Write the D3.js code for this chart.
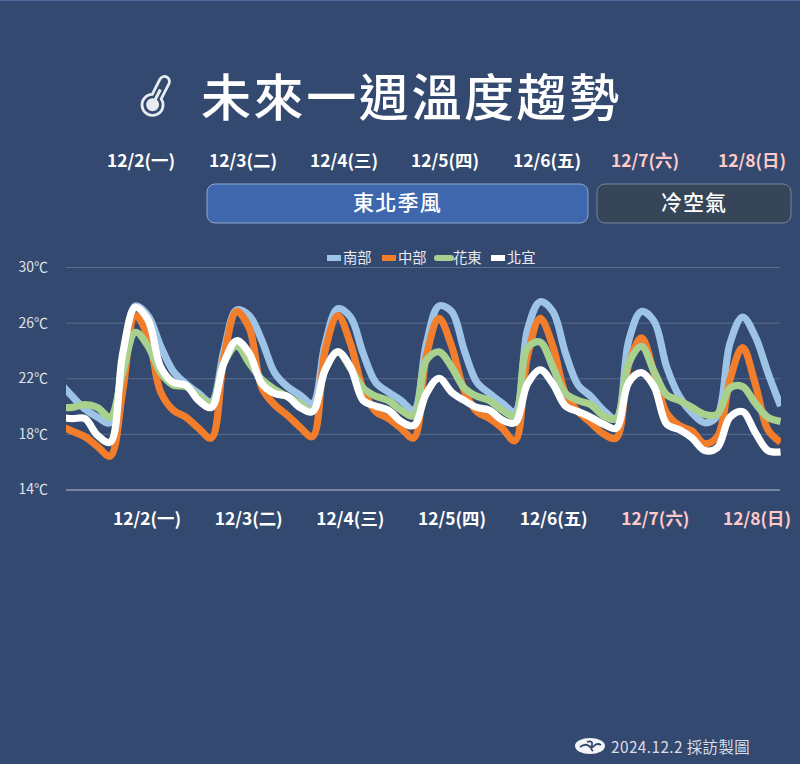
<!DOCTYPE html>
<html>
<head>
<meta charset="utf-8">
<script src="https://cdn.jsdelivr.net/npm/d3@7"></script>
<style>
    html, body { margin: 0; padding: 0; background: #34496f; }
    svg { display: block; }
    text { font-family: "Noto Sans CJK TC", "Noto Sans", sans-serif; }
</style>
</head>
<body>
<div id="chart"></div>
<script>
// 3-hourly temperatures, the first point sits just left of the plot and gets clipped
const south = [21.7,20.7,19.8,19.2,18.8,23,27.2,26.5,24.3,22.5,21.6,20.9,20.3,24,26.9,26.5,24.7,22.4,21.4,20.8,20.2,24.5,27,26.4,23.8,21.7,21,20.4,19.7,24.5,27.2,26.8,24,21.7,20.9,20.2,19.6,25.5,27.5,26.8,23.8,21.5,20.7,19.7,19.1,24.7,26.8,26.1,22.8,20.7,19.5,18.8,19.3,24.5,26.4,25,22.4,20];
const central = [18.6,18.2,17.8,17.1,16.4,21.1,26.5,25,21,19.7,19.2,18.4,17.7,23.5,26.8,25.6,21.3,20.1,19.35,18.5,17.8,24,26.5,24.5,21.2,19.6,19.1,18.4,17.7,23.6,26.3,24.3,21.1,19.6,19.1,18.4,17.5,23.6,26.3,24.3,20.9,19.6,18.8,18,17.7,23,24.9,22.4,19.5,18.6,18.2,17.3,17.8,21.9,24.2,21.6,18.3,17.4];
const eastern = [19.9,19.9,20.1,19.9,19.2,22.4,25.3,24.3,22.4,21.5,21.4,20.7,20.2,23.1,24.3,23.1,21.9,21.2,20.7,20.2,19.7,22.6,23.9,22.7,21.3,20.7,20.4,19.7,19.3,23.3,23.9,22.8,21.3,20.7,20.4,19.7,19.3,24.2,24.6,22.8,20.9,20.4,20.1,19.3,19.1,23.1,24.3,22.5,20.8,20.4,19.9,19.4,19.4,21.3,21.4,20.2,19.2,18.9];
const northern = [19.2,19.1,19.1,17.9,17.4,23.8,27.1,26.2,22.8,21.7,21.5,20.4,19.9,23.1,24.7,23.8,21.6,20.9,20.7,19.9,19.6,22.6,23.9,22.8,20.4,20,19.7,18.9,18.6,20.9,22,21,20.4,19.9,19.7,19,18.8,21.6,22.6,21.6,20,19.6,19.2,18.7,18.4,21.7,22.4,21.4,18.7,18.3,17.7,16.8,17,19.2,19.6,18.1,16.8,16.7];

const seriesNames = ["南部", "中部", "花東", "北宜"];
const seriesColors = ["#9dc3e6", "#f27d2b", "#a9d18e", "#ffffff"];
const dayLabels = ["12/2(一)", "12/3(二)", "12/4(三)", "12/5(四)", "12/6(五)", "12/7(六)", "12/8(日)"];
const yTicks = [14, 18, 22, 26, 30];
const allSeries = [south, central, eastern, northern];

const width = 800, height = 764;
const plot = {left: 66, right: 780, top: 267, bottom: 489.5};

let svg = d3.select("#chart").append("svg")
    .attr("width", width)
    .attr("height", height);

svg.append("rect").attr("width", width).attr("height", height).attr("fill", "#34496f");
svg.append("rect").attr("width", width).attr("height", 1).attr("fill", "#4c6a9c");

// scales
let x = d3.scaleLinear().domain([0, 57]).range([59.5, 59.5 + 57 * 12.65]);
let y = d3.scaleLinear().domain([14, 30]).range([plot.bottom, plot.top]);

// title
svg.append("text")
    .attr("x", 201).attr("y", 116)
    .attr("font-size", 50).attr("font-weight", 500)
    .attr("letter-spacing", 2.6)
    .attr("fill", "#ffffff")
    .text("未來一週溫度趨勢");

// thermometer icon
let icon = svg.append("g")
    .attr("transform", "translate(154,102) rotate(27)")
    .attr("fill", "none").attr("stroke", "#e8ebf0");
icon.append("path")
    .attr("stroke-width", 2.8)
    .attr("d", "M-5,-6 L-5,-23 A5,5 0 0 1 5,-23 L5,-6 A10.5,10.5 0 1 1 -5,-6 Z");
icon.append("circle").attr("r", 6.5).attr("cy", 3).attr("fill", "#e8ebf0").attr("stroke", "none");
icon.append("rect").attr("x", -1.5).attr("y", -14).attr("width", 3).attr("height", 14).attr("fill", "#e8ebf0").attr("stroke", "none");

// top row of dates
const topDayX = [141, 243, 344, 445, 547, 645, 752];
svg.append("g").selectAll("text")
    .data(dayLabels)
    .enter().append("text")
    .attr("x", (d, i) => topDayX[i])
    .attr("y", 167)
    .attr("text-anchor", "middle")
    .attr("font-size", 17.4).attr("font-weight", 700)
    .attr("fill", (d, i) => i > 4 ? "#ffc9c9" : "#ffffff")
    .text(d => d);

// weather bands
const bands = [
    {label: "東北季風", x: 207, w: 381, fill: "#3f67ad", stroke: "#8ea6cf"},
    {label: "冷空氣", x: 597, w: 194, fill: "#364558", stroke: "#76869a"}
];
bands.forEach(function (b) {
    svg.append("rect")
        .attr("x", b.x).attr("y", 184).attr("width", b.w).attr("height", 39).attr("rx", 8)
        .attr("fill", b.fill).attr("stroke", b.stroke);
    svg.append("text")
        .attr("x", b.x + b.w / 2).attr("y", 210)
        .attr("text-anchor", "middle")
        .attr("font-size", 21).attr("font-weight", 500).attr("letter-spacing", 1.2)
        .attr("fill", "#ffffff")
        .text(b.label);
});

// y axis and grid
let yAxis = d3.axisLeft(y)
    .tickValues(yTicks)
    .tickSize(-(plot.right - plot.left))
    .tickPadding(18)
    .tickFormat(d => d + "℃");

let yAxisG = svg.append("g")
    .attr("transform", "translate(" + plot.left + ",0)")
    .call(yAxis);
yAxisG.select(".domain").remove();
yAxisG.selectAll("line")
    .attr("stroke", d => d === 14 ? "#b9c1cf" : "#596d90")
    .attr("stroke-width", 1);
yAxisG.selectAll("text")
    .attr("fill", "#dfe3ea")
    .attr("font-size", 14)
    .style("font-family", '"Noto Sans CJK TC", sans-serif');

// lines, cut at the plot edges
svg.append("clipPath").attr("id", "plot-clip")
    .append("rect")
    .attr("x", plot.left).attr("y", 0)
    .attr("width", plot.right + 1 - plot.left).attr("height", height);

let line = d3.line()
    .x((d, i) => x(i))
    .y(d => y(d))
    .curve(d3.curveCatmullRom.alpha(0.5));

svg.append("g").attr("clip-path", "url(#plot-clip)")
    .selectAll("path")
    .data(allSeries)
    .enter().append("path")
    .attr("d", line)
    .attr("fill", "none")
    .attr("stroke", (d, i) => seriesColors[i])
    .attr("stroke-width", 7.2)
    .attr("stroke-linejoin", "round");

// legend
const legendX = [327, 382, 437, 491];
let legend = svg.append("g").selectAll("g")
    .data(seriesNames)
    .enter().append("g")
    .attr("transform", (d, i) => "translate(" + legendX[i] + ",258)");
legend.append("line")
    .attr("x1", 0).attr("x2", 14)
    .attr("stroke", (d, i) => seriesColors[i])
    .attr("stroke-width", 6)
    .attr("stroke-linecap", (d, i) => i === 2 ? "round" : "butt");
legend.append("text")
    .attr("x", 16).attr("y", 4.5)
    .attr("font-size", 14.3)
    .attr("fill", "#e8ebf0")
    .text(d => d);

// bottom row of dates
let dayScale = d3.scalePoint().domain(dayLabels).range([147, 757]);
svg.append("g").selectAll("text")
    .data(dayLabels)
    .enter().append("text")
    .attr("x", d => dayScale(d))
    .attr("y", 525)
    .attr("text-anchor", "middle")
    .attr("font-size", 17.4).attr("font-weight", 700)
    .attr("fill", (d, i) => i > 4 ? "#ffc9c9" : "#ffffff")
    .text(d => d);

// footer logo and credit
let logo = svg.append("g").attr("transform", "translate(590,746)");
logo.append("ellipse").attr("rx", 15).attr("ry", 8).attr("fill", "#f2f4f7");
logo.append("path")
    .attr("d", "M-10,1 Q-5,-3 -1,0 Q2,3 5,-1 Q8,-3 11,-1 M-3,-4 Q3,-6 2,-1 Q0,3 3,5")
    .attr("fill", "none").attr("stroke", "#34496f").attr("stroke-width", 1.8);
svg.append("text")
    .attr("x", 611).attr("y", 752.5)
    .attr("font-size", 15.4)
    .attr("letter-spacing", 0.4)
    .attr("fill", "#d9dee6")
    .text("2024.12.2 採訪製圖");
</script>
</body>
</html>
